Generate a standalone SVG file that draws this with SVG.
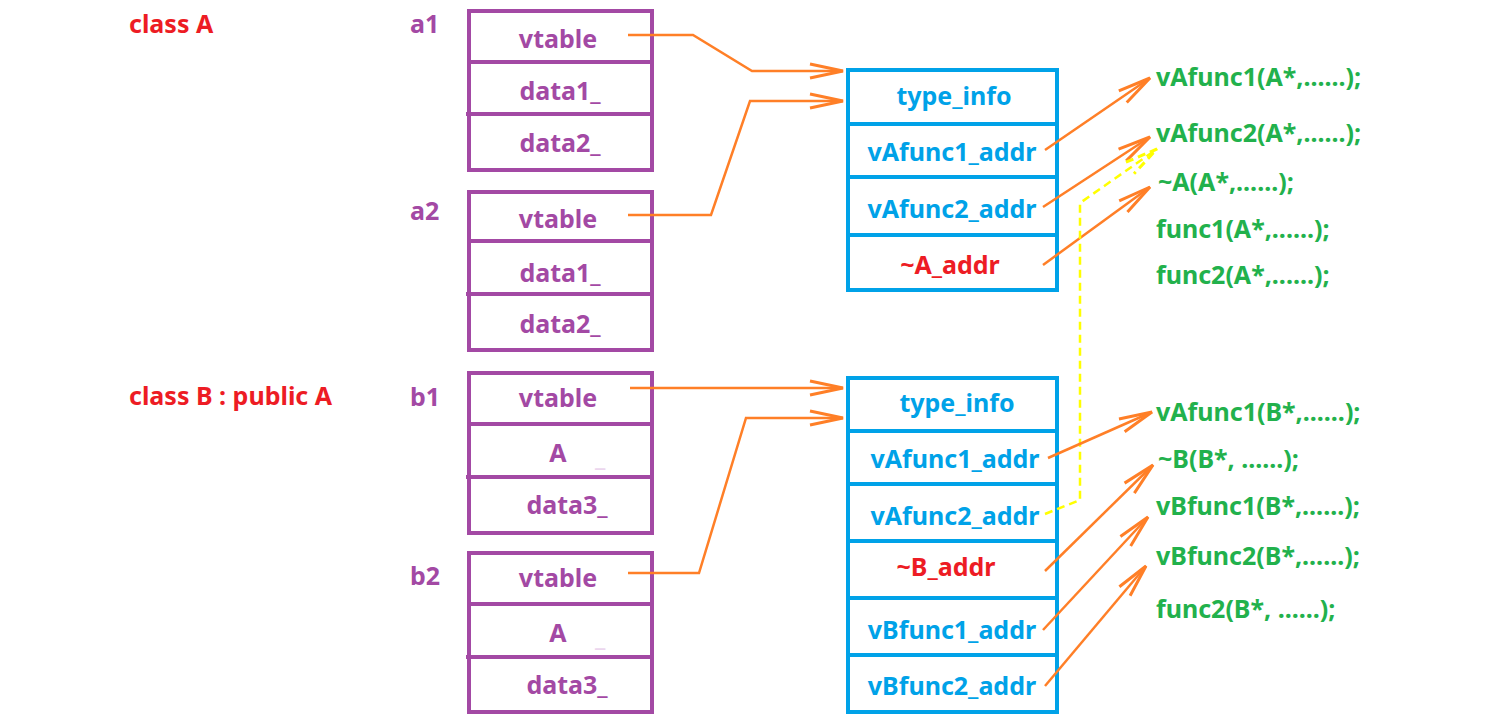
<svg xmlns="http://www.w3.org/2000/svg" width="1501" height="723" viewBox="0 0 1501 723">
<defs>
<marker id="arr" markerUnits="userSpaceOnUse" viewBox="0 0 34 16" refX="33" refY="8" markerWidth="34" markerHeight="16" orient="auto" overflow="visible">
<path d="M0,1 L33,8 L0,15" fill="none" stroke="#ff7f27" stroke-width="3"/>
</marker>
<marker id="arrY" markerUnits="userSpaceOnUse" viewBox="0 0 34 16" refX="33" refY="8" markerWidth="34" markerHeight="16" orient="auto" overflow="visible">
<path d="M0,1 L33,8 L0,15" fill="none" stroke="#ffff00" stroke-width="3" stroke-dasharray="8,5"/>
</marker>
</defs>
<style>
text{font-family:"Noto Sans","Open Sans","Liberation Sans",sans-serif;font-weight:bold;font-size:25px}
.red{fill:#ed1c24}
.pur{fill:#a349a4}
.blu{fill:#00a2e8}
.grn{fill:#22b14c}
.mid{text-anchor:middle}
.pbox{fill:#fff;stroke:#a349a4;stroke-width:4}
.bbox{fill:#fff;stroke:#00a2e8;stroke-width:4}
.pl{stroke:#a349a4;stroke-width:4}
.bl{stroke:#00a2e8;stroke-width:4}
.con{fill:none;stroke:#ff7f27;stroke-width:2.5;marker-end:url(#arr)}
.dash{fill:none;stroke:#ffff00;stroke-width:2.5;stroke-dasharray:8,5;marker-end:url(#arrY)}
</style>
<rect width="1501" height="723" fill="#fff"/>

<g id="labels">
<text class="red" x="129" y="33">class A</text>
<text class="red" x="129" y="405">class B : public A</text>
<text class="pur" x="410" y="33">a1</text>
<text class="pur" x="410" y="220">a2</text>
<text class="pur" x="410" y="406">b1</text>
<text class="pur" x="410" y="585">b2</text>
</g>

<g id="a1">
<rect class="pbox" x="469" y="11" width="183" height="159"/>
<line class="pl" x1="469" y1="62" x2="652" y2="62"/>
<line class="pl" x1="466" y1="114" x2="652" y2="114"/>
<text class="pur mid" x="558" y="48">vtable</text>
<text class="pur mid" x="560" y="100">data1_</text>
<text class="pur mid" x="560" y="152">data2_</text>
</g>

<g id="a2">
<rect class="pbox" x="469" y="192" width="183" height="158"/>
<line class="pl" x1="469" y1="241" x2="652" y2="241"/>
<line class="pl" x1="466" y1="294" x2="652" y2="294"/>
<text class="pur mid" x="558" y="228">vtable</text>
<text class="pur mid" x="560" y="282">data1_</text>
<text class="pur mid" x="560" y="333">data2_</text>
</g>

<g id="b1">
<rect class="pbox" x="469" y="373" width="183" height="160"/>
<line class="pl" x1="469" y1="424" x2="652" y2="424"/>
<line class="pl" x1="466" y1="477" x2="652" y2="477"/>
<text class="pur mid" x="558" y="407">vtable</text>
<text class="pur mid" x="558" y="462">A</text>
<text x="595" y="466" style="fill:#ecd6ee">_</text>
<text class="pur mid" x="567" y="514">data3_</text>
</g>

<g id="b2">
<rect class="pbox" x="469" y="553" width="183" height="159"/>
<line class="pl" x1="469" y1="604" x2="652" y2="604"/>
<line class="pl" x1="466" y1="657" x2="652" y2="657"/>
<text class="pur mid" x="558" y="587">vtable</text>
<text class="pur mid" x="558" y="642">A</text>
<text x="595" y="646" style="fill:#ecd6ee">_</text>
<text class="pur mid" x="567" y="694">data3_</text>
</g>

<g id="vtblA">
<rect class="bbox" x="848" y="70" width="209" height="220"/>
<line class="bl" x1="848" y1="124" x2="1057" y2="124"/>
<line class="bl" x1="848" y1="177" x2="1057" y2="177"/>
<line class="bl" x1="848" y1="235" x2="1057" y2="235"/>
<text class="blu mid" x="954" y="105">type_info</text>
<text class="blu mid" x="952" y="161">vAfunc1_addr</text>
<text class="blu mid" x="952" y="218">vAfunc2_addr</text>
<text class="red mid" x="950" y="274">~A_addr</text>
</g>

<g id="vtblB">
<rect class="bbox" x="848" y="378" width="209" height="334"/>
<line class="bl" x1="848" y1="431" x2="1057" y2="431"/>
<line class="bl" x1="848" y1="484" x2="1057" y2="484"/>
<line class="bl" x1="848" y1="541" x2="1057" y2="541"/>
<line class="bl" x1="848" y1="598" x2="1057" y2="598"/>
<line class="bl" x1="848" y1="655" x2="1057" y2="655"/>
<text class="blu mid" x="957" y="412">type_info</text>
<text class="blu mid" x="955" y="468">vAfunc1_addr</text>
<text class="blu mid" x="955" y="525">vAfunc2_addr</text>
<text class="red mid" x="946" y="576">~B_addr</text>
<text class="blu mid" x="952" y="639">vBfunc1_addr</text>
<text class="blu mid" x="952" y="695">vBfunc2_addr</text>
</g>

<g id="funcsA">
<text class="grn" x="1156" y="86">vAfunc1(A*,......);</text>
<text class="grn" x="1156" y="142">vAfunc2(A*,......);</text>
<text class="grn" x="1158" y="191">~A(A*,......);</text>
<text class="grn" x="1156" y="238">func1(A*,......);</text>
<text class="grn" x="1156" y="284">func2(A*,......);</text>
</g>

<g id="funcsB">
<text class="grn" x="1156" y="421">vAfunc1(B*,......);</text>
<text class="grn" x="1158" y="468">~B(B*, ......);</text>
<text class="grn" x="1156" y="515">vBfunc1(B*,......);</text>
<text class="grn" x="1156" y="565">vBfunc2(B*,......);</text>
<text class="grn" x="1156" y="618">func2(B*, ......);</text>
</g>

<g id="connectors">
<polyline class="con" points="628,35 693,35 752,71 843,71"/>
<polyline class="con" points="628,215 711,215 750,101 843,101"/>
<polyline class="con" points="630,388 843,388"/>
<polyline class="con" points="628,573 699,573 746,418 843,418"/>
<line class="con" x1="1045" y1="150" x2="1150" y2="78"/>
<line class="con" x1="1043" y1="207" x2="1150" y2="137"/>
<line class="con" x1="1043" y1="265" x2="1150" y2="187"/>
<polyline class="dash" points="1045,514 1080,500 1080,203 1157,149"/>
<line class="con" x1="1048" y1="458" x2="1152" y2="412"/>
<line class="con" x1="1045" y1="571" x2="1153" y2="465"/>
<line class="con" x1="1043" y1="630" x2="1148" y2="517"/>
<line class="con" x1="1045" y1="686" x2="1146" y2="566"/>
</g>
</svg>
